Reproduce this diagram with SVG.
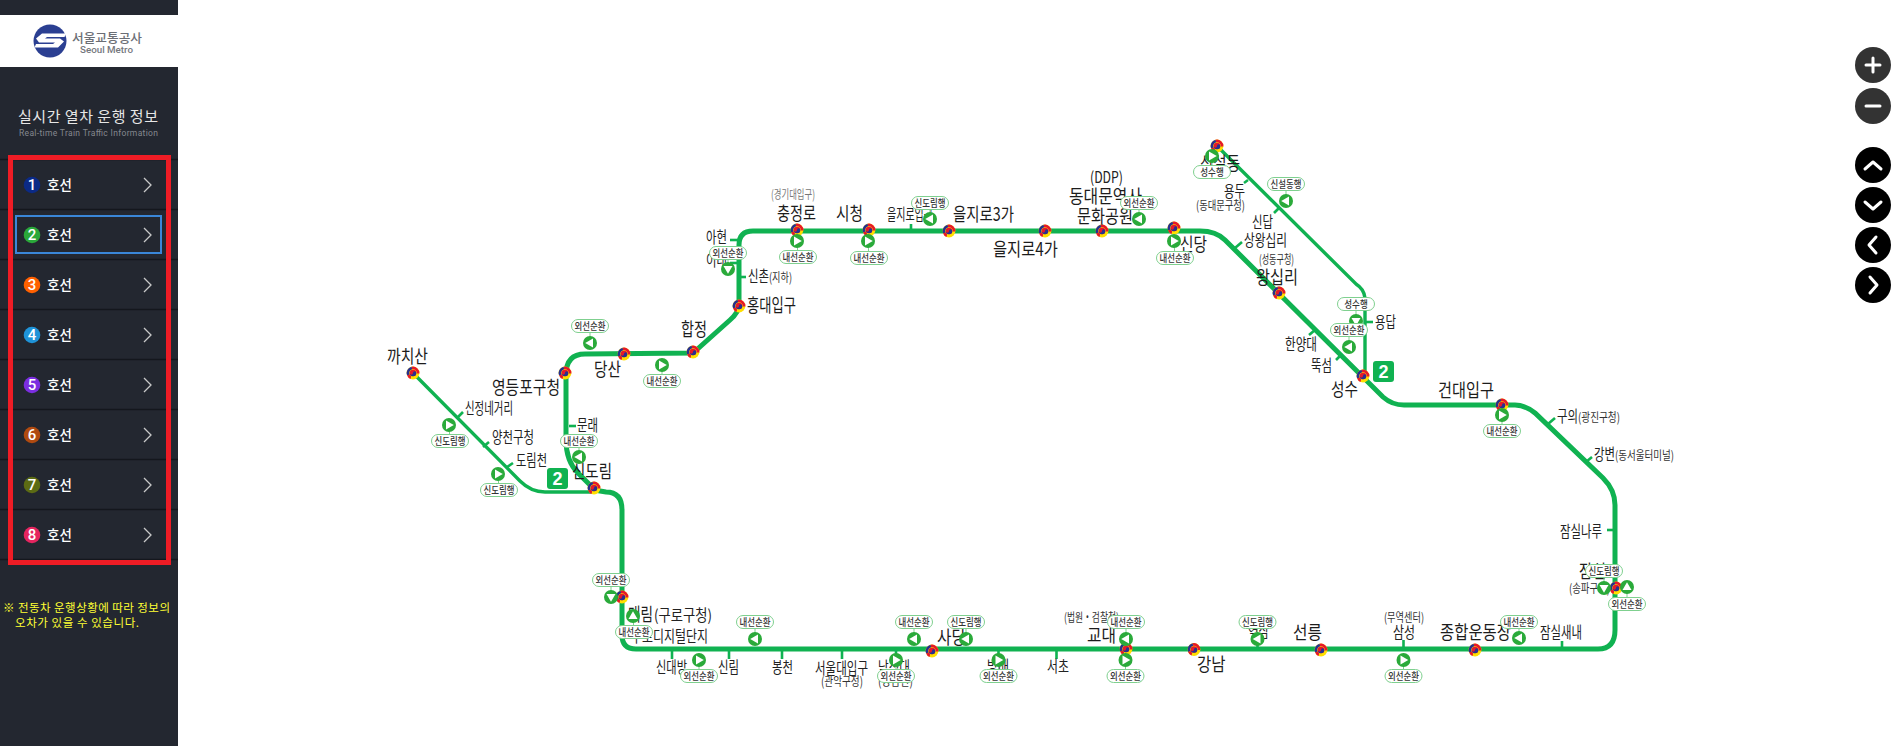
<svg xmlns="http://www.w3.org/2000/svg" width="1896" height="746" viewBox="0 0 1896 746">
<style>
text{font-family:"Noto Sans CJK KR","Noto Sans",sans-serif}
.a{font-size:18.500px;fill:#1c1c1c}
.b{font-size:15.500px;fill:#222}
.c{font-size:12.500px;fill:#333}
.p{font-size:10px;fill:#333;text-anchor:middle;font-weight:500}
.pill{fill:#fff;stroke:#7fd08f;stroke-width:1}
.pl{stroke:#7fd08f;stroke-width:1}
.main{fill:none;stroke:#10b251;stroke-width:5}
.br{fill:none;stroke:#10b251;stroke-width:3.400}
.tk{stroke:#10b251;stroke-width:2.600}
.div{stroke:#14171d;stroke-width:1.500}
.chev{fill:none;stroke:#c9c9c9;stroke-width:1.300}
.mt{font-size:13.500px;font-weight:500;fill:#fff}
.num{font-family:"Roboto",sans-serif;font-size:15px;font-weight:500;fill:#fff;text-anchor:middle}
.ic{fill:none;stroke:#fff;stroke-width:3;stroke-linecap:round;stroke-linejoin:round}
.bd{fill:#10b251}
.bn{font-family:"Liberation Sans",sans-serif;font-size:18px;font-weight:700;fill:#fff;text-anchor:middle}
</style>
<defs>
<g id="sta">
<circle r="6.400" fill="#ffdf00"/>
<path d="M-1.500-6.200A6.400 6.400 0 0 1 6.400 .5L3.800 .5A3.800 3.800 0 0 0-.8-3.700Z" fill="#e6182a"/>
<path d="M-5.900 2.400A6.400 6.400 0 0 1-1.500-6.200L-.8-3.700A3.800 3.800 0 0 0-3.400 1.600Z" fill="#27308f"/>
<path d="M-5.900 2.400A6.400 6.400 0 0 0-2.500 5.900L-1.800 3.400A3.800 3.800 0 0 1-3.400 1.600Z" fill="#e6182a"/>
<circle r="3.300" fill="#e6182a"/>
<path d="M-3.300 0A3.300 3.300 0 0 0 3.300 0A1.650 1.650 0 0 0 0 0A1.650 1.650 0 0 1-3.300 0Z" fill="#27308f"/>
</g>
<g id="tr"><circle r="7" fill="#2aaa3a"/><path d="M-3-4.500L4.800 0-3 4.500Z" fill="#fff"/></g>
<g id="tl"><circle r="7" fill="#2aaa3a"/><path d="M3-4.500L-4.800 0 3 4.500Z" fill="#fff"/></g>
<g id="tu"><circle r="7" fill="#2aaa3a"/><path d="M-4.500 3L0-4.800 4.500 3Z" fill="#fff"/></g>
<g id="td"><circle r="7" fill="#2aaa3a"/><path d="M-4.500-3L0 4.800 4.500-3Z" fill="#fff"/></g>
<path id="chv" d="M-3.500-7L3.500 0-3.500 7" class="chev"/>
</defs>
<rect width="1896" height="746" fill="#fff"/>
<g id="sidebar">
<rect width="178" height="746" fill="#232730"/>
<rect y="15" width="178" height="52" fill="#fff"/>
<g id="logo">
<circle cx="50" cy="41" r="16.500" fill="#2b3f92"/>
<path d="M36 38.500L42 33.500H66L64.500 37H47L45 38.500H60L64 41.500 58 47.500H34.500L36 44H53L55 42.500H39Z" fill="#fff"/>
<text x="72" y="42.500" font-size="12.500" font-weight="500" fill="#6b6e75" textLength="70" lengthAdjust="spacingAndGlyphs">서울교통공사</text>
<text x="80" y="53" font-size="8.500" font-weight="500" fill="#75787e" textLength="53" lengthAdjust="spacingAndGlyphs" style="font-family:'Roboto',sans-serif">Seoul Metro</text>
</g>
<text x="18" y="122" font-size="15" fill="#e6e6e6" textLength="140">실시간 열차 운행 정보</text>
<text x="19" y="136" font-size="8.500" fill="#85888f" textLength="139" style="font-family:'Roboto',sans-serif">Real-time Train Traffic Information</text>
<g id="dividers">
<line class="div" x1="0" x2="178" y1="159.500" y2="159.500"/><line class="div" x1="0" x2="178" y1="209.500" y2="209.500"/><line class="div" x1="0" x2="178" y1="259.500" y2="259.500"/><line class="div" x1="0" x2="178" y1="309.500" y2="309.500"/><line class="div" x1="0" x2="178" y1="359.500" y2="359.500"/><line class="div" x1="0" x2="178" y1="409.500" y2="409.500"/><line class="div" x1="0" x2="178" y1="459.500" y2="459.500"/><line class="div" x1="0" x2="178" y1="509.500" y2="509.500"/><line class="div" x1="0" x2="178" y1="559.500" y2="559.500"/>
</g>
<g id="line1"><circle cx="32" cy="185" r="8.300" fill="#0b2a86"/><text class="num" x="32" y="190.300">1</text><text class="mt" x="47" y="190">호선</text><use href="#chv" x="147.500" y="185"/></g>
<g id="line2"><circle cx="32" cy="235" r="8.300" fill="#2aa83a"/><text class="num" x="32" y="240.300">2</text><text class="mt" x="47" y="240">호선</text><use href="#chv" x="147.500" y="235"/></g>
<g id="line3"><circle cx="32" cy="285" r="8.300" fill="#ff6000"/><text class="num" x="32" y="290.300">3</text><text class="mt" x="47" y="290">호선</text><use href="#chv" x="147.500" y="285"/></g>
<g id="line4"><circle cx="32" cy="335" r="8.300" fill="#1f93d8"/><text class="num" x="32" y="340.300">4</text><text class="mt" x="47" y="340">호선</text><use href="#chv" x="147.500" y="335"/></g>
<g id="line5"><circle cx="32" cy="385" r="8.300" fill="#7b2ee0"/><text class="num" x="32" y="390.300">5</text><text class="mt" x="47" y="390">호선</text><use href="#chv" x="147.500" y="385"/></g>
<g id="line6"><circle cx="32" cy="435" r="8.300" fill="#b04a10"/><text class="num" x="32" y="440.300">6</text><text class="mt" x="47" y="440">호선</text><use href="#chv" x="147.500" y="435"/></g>
<g id="line7"><circle cx="32" cy="485" r="8.300" fill="#5c6b14"/><text class="num" x="32" y="490.300">7</text><text class="mt" x="47" y="490">호선</text><use href="#chv" x="147.500" y="485"/></g>
<g id="line8"><circle cx="32" cy="535" r="8.300" fill="#e5255f"/><text class="num" x="32" y="540.300">8</text><text class="mt" x="47" y="540">호선</text><use href="#chv" x="147.500" y="535"/></g>
<rect x="16" y="216" width="145" height="37" fill="none" stroke="#3a86d8" stroke-width="2"/>
<rect x="10.500" y="157.500" width="158" height="405" fill="none" stroke="#ee1c25" stroke-width="5"/>
<text x="3" y="612" font-size="11.500" fill="#ffff33" textLength="167">※ 전동차 운행상황에 따라 정보의</text>
<text x="15" y="627" font-size="11.500" fill="#ffff33" textLength="124">오차가 있을 수 있습니다.</text>
</g>
<g id="connectors">
<path id="loop" class="main" d="M739 305L739 245Q739 231 753 231L1200 231Q1216 231 1225 240L1383 397Q1392 405 1404 405L1515 405Q1525 405 1535 413L1603 478Q1615 490 1615 505L1615 630Q1615 649 1598 649L636 649Q622 649 622 635L622 510Q622 492 606 492L594 490"/>
<path id="loop2" class="main" d="M594 489L578 473Q566 461 566 440L566 375Q566 354 585 354L693 353L730 320Q739 312 739 305"/>
<path id="branch-kkachisan" class="br" d="M413 373L520 481Q531 492 545 492L594 492"/>
<path id="branch-sinseoldong" class="br" d="M1365 378L1365 298Q1364 289 1356 284L1217 146"/>
<g id="ticks">
<line class="tk" x1="457" y1="418" x2="463" y2="412"/><line class="tk" x1="483" y1="447" x2="489" y2="442"/><line class="tk" x1="507" y1="467" x2="513" y2="463"/>
<line class="tk" x1="569" y1="426" x2="576" y2="426"/><line class="tk" x1="730" y1="240" x2="738" y2="240"/><line class="tk" x1="730" y1="263" x2="738" y2="263"/><line class="tk" x1="740" y1="277" x2="746" y2="277"/>
<line class="tk" x1="911" y1="224" x2="911" y2="231"/><line class="tk" x1="1235" y1="248" x2="1242" y2="242"/><line class="tk" x1="1274" y1="213" x2="1279" y2="208"/><line class="tk" x1="1244" y1="183" x2="1248" y2="180"/>
<line class="tk" x1="1309" y1="335" x2="1315" y2="330"/><line class="tk" x1="1336" y1="360" x2="1341" y2="355"/><line class="tk" x1="1366" y1="322" x2="1373" y2="322"/>
<line class="tk" x1="1548" y1="424" x2="1555" y2="418"/><line class="tk" x1="1586" y1="462" x2="1592" y2="457"/><line class="tk" x1="1607" y1="530" x2="1615" y2="530"/>
<line class="tk" x1="1562" y1="641" x2="1562" y2="649"/><line class="tk" x1="1403.500" y1="640" x2="1403.500" y2="649"/><line class="tk" x1="1257.500" y1="642" x2="1257.500" y2="649"/>
<line class="tk" x1="672" y1="649" x2="672" y2="659"/><line class="tk" x1="729" y1="649" x2="729" y2="659"/><line class="tk" x1="782" y1="649" x2="782" y2="659"/><line class="tk" x1="842" y1="649" x2="842" y2="659"/><line class="tk" x1="1056.500" y1="649" x2="1056.500" y2="659"/><line class="tk" x1="998.500" y1="649" x2="998.500" y2="659"/><line class="tk" x1="896" y1="649" x2="896" y2="659"/>
</g>
</g>
<g id="badges">
<g id="badge-left"><rect class="bd" x="547" y="468" width="21" height="21" rx="3"/><text class="bn" x="557.500" y="485">2</text></g>
<g id="badge-right"><rect class="bd" x="1373" y="361" width="21" height="21" rx="3"/><text class="bn" x="1383.500" y="378">2</text></g>
</g>
<g id="stations">
<g id="s-kkachisan"><use href="#sta" x="413" y="373"/><text class="a" x="387" y="362.500" textLength="41" lengthAdjust="spacingAndGlyphs">까치산</text></g>
<g id="s-sinjeong"><text class="b" x="465" y="414" textLength="48" lengthAdjust="spacingAndGlyphs">신정네거리</text></g>
<g id="s-yangcheon"><text class="b" x="492" y="443" textLength="42" lengthAdjust="spacingAndGlyphs">양천구청</text></g>
<g id="s-dorimcheon"><text class="b" x="516" y="466" textLength="31" lengthAdjust="spacingAndGlyphs">도림천</text></g>
<g id="s-sindorim"><use href="#sta" x="594" y="488"/><text class="a" x="572" y="478" textLength="40" lengthAdjust="spacingAndGlyphs">신도림</text></g>
<g id="s-mullae"><text class="b" x="577" y="431" textLength="21" lengthAdjust="spacingAndGlyphs">문래</text></g>
<g id="s-ydp"><use href="#sta" x="565" y="373"/><text class="a" x="492" y="394" textLength="68" lengthAdjust="spacingAndGlyphs">영등포구청</text></g>
<g id="s-dangsan"><use href="#sta" x="624" y="354"/><text class="a" x="594" y="376" textLength="27" lengthAdjust="spacingAndGlyphs">당산</text></g>
<g id="s-hapjeong"><use href="#sta" x="693" y="352"/><text class="a" x="681" y="336" textLength="26" lengthAdjust="spacingAndGlyphs">합정</text></g>
<g id="s-hongik"><use href="#sta" x="739" y="306"/><text class="a" x="747" y="312" textLength="49" lengthAdjust="spacingAndGlyphs">홍대입구</text></g>
<g id="s-sinchon"><text class="b" x="748" y="282" textLength="21" lengthAdjust="spacingAndGlyphs">신촌</text><text class="c" x="769" y="282" textLength="23" lengthAdjust="spacingAndGlyphs">(지하)</text></g>
<g id="s-ewha"><text class="b" x="706" y="266" textLength="21" lengthAdjust="spacingAndGlyphs">이대</text></g>
<g id="s-ahyeon"><text class="b" x="706" y="243" textLength="21" lengthAdjust="spacingAndGlyphs">아현</text></g>
<g id="s-chungjeongno"><use href="#sta" x="797" y="230"/><text class="a" x="777" y="220" textLength="39" lengthAdjust="spacingAndGlyphs">충정로</text><text class="c" x="771" y="199" textLength="44" lengthAdjust="spacingAndGlyphs" style="fill:#777">(경기대입구)</text></g>
<g id="s-cityhall"><use href="#sta" x="869" y="230"/><text class="a" x="836" y="220" textLength="27" lengthAdjust="spacingAndGlyphs">시청</text></g>
<g id="s-euljiro1"><text class="b" x="887" y="220" textLength="46" lengthAdjust="spacingAndGlyphs">을지로입구</text></g>
<g id="s-euljiro3"><use href="#sta" x="949" y="231"/><text class="a" x="953" y="221" textLength="61" lengthAdjust="spacingAndGlyphs">을지로3가</text></g>
<g id="s-euljiro4"><use href="#sta" x="1045" y="231"/><text class="a" x="993" y="256" textLength="65" lengthAdjust="spacingAndGlyphs">을지로4가</text></g>
<g id="s-ddp"><use href="#sta" x="1102" y="231"/><text class="b" x="1090" y="183" textLength="33" lengthAdjust="spacingAndGlyphs">(DDP)</text><text class="a" x="1069" y="203" textLength="73" lengthAdjust="spacingAndGlyphs">동대문역사</text><text class="a" x="1077" y="223" textLength="56" lengthAdjust="spacingAndGlyphs">문화공원</text></g>
<g id="s-sindang"><use href="#sta" x="1174" y="228"/><text class="a" x="1180" y="251" textLength="27" lengthAdjust="spacingAndGlyphs">신당</text></g>
<g id="s-sinseoldong"><use href="#sta" x="1217" y="146"/><text class="a" x="1200" y="170" textLength="40" lengthAdjust="spacingAndGlyphs">신설동</text></g>
<g id="s-yongdu"><text class="b" x="1224" y="197" textLength="21" lengthAdjust="spacingAndGlyphs">용두</text><text class="c" x="1196" y="210" textLength="49" lengthAdjust="spacingAndGlyphs">(동대문구청)</text></g>
<g id="s-sindap"><text class="b" x="1252" y="228" textLength="21" lengthAdjust="spacingAndGlyphs">신답</text></g>
<g id="s-sangwangsimni"><text class="b" x="1244" y="246" textLength="43" lengthAdjust="spacingAndGlyphs">상왕십리</text></g>
<g id="s-wangsimni"><use href="#sta" x="1279" y="293"/><text class="c" x="1259" y="264" textLength="35" lengthAdjust="spacingAndGlyphs">(성동구청)</text><text class="a" x="1256" y="284" textLength="42" lengthAdjust="spacingAndGlyphs">왕십리</text></g>
<g id="s-hanyang"><text class="b" x="1285" y="350" textLength="32" lengthAdjust="spacingAndGlyphs">한양대</text></g>
<g id="s-ttukseom"><text class="b" x="1311" y="371" textLength="21" lengthAdjust="spacingAndGlyphs">뚝섬</text></g>
<g id="s-seongsu"><use href="#sta" x="1363" y="376"/><text class="a" x="1331" y="396" textLength="27" lengthAdjust="spacingAndGlyphs">성수</text></g>
<g id="s-yongdap"><text class="b" x="1375" y="328" textLength="21" lengthAdjust="spacingAndGlyphs">용답</text></g>
<g id="s-konkuk"><use href="#sta" x="1502" y="405"/><text class="a" x="1438" y="397" textLength="56" lengthAdjust="spacingAndGlyphs">건대입구</text></g>
<g id="s-guui"><text class="b" x="1557" y="422" textLength="21" lengthAdjust="spacingAndGlyphs">구의</text><text class="c" x="1578" y="422" textLength="42" lengthAdjust="spacingAndGlyphs">(광진구청)</text></g>
<g id="s-gangbyeon"><text class="b" x="1594" y="460" textLength="21" lengthAdjust="spacingAndGlyphs">강변</text><text class="c" x="1615" y="460" textLength="59" lengthAdjust="spacingAndGlyphs">(동서울터미널)</text></g>
<g id="s-jamsilnaru"><text class="b" x="1560" y="537" textLength="42" lengthAdjust="spacingAndGlyphs">잠실나루</text></g>
<g id="s-jamsil"><use href="#sta" x="1616" y="588"/><text class="a" x="1579" y="578" textLength="27" lengthAdjust="spacingAndGlyphs">잠실</text><text class="c" x="1569" y="593" textLength="41" lengthAdjust="spacingAndGlyphs">(송파구청)</text></g>
<g id="s-jamsilsaenae"><text class="b" x="1540" y="638" textLength="42" lengthAdjust="spacingAndGlyphs">잠실새내</text></g>
<g id="s-sports"><use href="#sta" x="1475" y="650"/><text class="a" x="1440" y="639" textLength="71" lengthAdjust="spacingAndGlyphs">종합운동장</text></g>
<g id="s-samseong"><text class="c" x="1384" y="622" textLength="40" lengthAdjust="spacingAndGlyphs">(무역센터)</text><text class="b" x="1393" y="638" textLength="22" lengthAdjust="spacingAndGlyphs">삼성</text></g>
<g id="s-seolleung"><use href="#sta" x="1321" y="650"/><text class="a" x="1293" y="639" textLength="29" lengthAdjust="spacingAndGlyphs">선릉</text></g>
<g id="s-yeoksam"><text class="b" x="1248" y="637" textLength="21" lengthAdjust="spacingAndGlyphs">역삼</text></g>
<g id="s-gangnam"><use href="#sta" x="1194" y="649.500"/><text class="a" x="1197" y="671" textLength="28.500" lengthAdjust="spacingAndGlyphs">강남</text></g>
<g id="s-gyodae"><use href="#sta" x="1126" y="649"/><text class="c" x="1064" y="622" textLength="55" lengthAdjust="spacingAndGlyphs">(법원・검찰청)</text><text class="a" x="1087" y="642" textLength="29" lengthAdjust="spacingAndGlyphs">교대</text></g>
<g id="s-seocho"><text class="b" x="1047" y="672" textLength="22" lengthAdjust="spacingAndGlyphs">서초</text></g>
<g id="s-bangbae"><text class="b" x="987" y="672" textLength="22" lengthAdjust="spacingAndGlyphs">방배</text></g>
<g id="s-sadang"><use href="#sta" x="932" y="651"/><text class="a" x="937" y="644" textLength="29" lengthAdjust="spacingAndGlyphs">사당</text></g>
<g id="s-nakseongdae"><text class="b" x="878" y="673" textLength="32" lengthAdjust="spacingAndGlyphs">낙성대</text><text class="c" x="878" y="686" textLength="35" lengthAdjust="spacingAndGlyphs">(강감찬)</text></g>
<g id="s-snu"><text class="b" x="815" y="674" textLength="53" lengthAdjust="spacingAndGlyphs">서울대입구</text><text class="c" x="821" y="686" textLength="42" lengthAdjust="spacingAndGlyphs">(관악구청)</text></g>
<g id="s-bongcheon"><text class="b" x="772" y="673" textLength="21" lengthAdjust="spacingAndGlyphs">봉천</text></g>
<g id="s-sillim"><text class="b" x="718" y="673" textLength="21" lengthAdjust="spacingAndGlyphs">신림</text></g>
<g id="s-sindaebang"><text class="b" x="656" y="673" textLength="31" lengthAdjust="spacingAndGlyphs">신대방</text></g>
<g id="s-guro-digital"><text class="b" x="631" y="642" textLength="77" lengthAdjust="spacingAndGlyphs">구로디지털단지</text></g>
<g id="s-daerim"><use href="#sta" x="622" y="597"/><text class="a" x="628" y="621" textLength="25" lengthAdjust="spacingAndGlyphs">대림</text><text class="b" x="654" y="621" textLength="58" lengthAdjust="spacingAndGlyphs">(구로구청)</text></g>
</g>
<g id="trains">
<g id="t1"><line class="pl" x1="449" y1="425" x2="450" y2="441"/><use href="#tr" x="449" y="425"/><rect class="pill" x="431.500" y="434.500" width="37" height="13" rx="6.500"/><text class="p" x="450" y="444.500" textLength="31" lengthAdjust="spacingAndGlyphs">신도림행</text></g>
<g id="t2"><line class="pl" x1="498" y1="474" x2="499" y2="490"/><use href="#tr" x="498" y="474"/><rect class="pill" x="480.500" y="483.500" width="37" height="13" rx="6.500"/><text class="p" x="499" y="493.500" textLength="31" lengthAdjust="spacingAndGlyphs">신도림행</text></g>
<g id="t3"><line class="pl" x1="579" y1="457" x2="579" y2="441"/><use href="#tl" x="579" y="457"/><rect class="pill" x="560.500" y="434.500" width="37" height="13" rx="6.500"/><text class="p" x="579" y="444.500" textLength="31" lengthAdjust="spacingAndGlyphs">내선순환</text></g>
<g id="t4"><line class="pl" x1="590" y1="343" x2="590" y2="326"/><use href="#tl" x="590" y="343"/><rect class="pill" x="571.500" y="319.500" width="37" height="13" rx="6.500"/><text class="p" x="590" y="329.500" textLength="31" lengthAdjust="spacingAndGlyphs">외선순환</text></g>
<g id="t5"><line class="pl" x1="662" y1="365" x2="662" y2="381"/><use href="#tr" x="662" y="365"/><rect class="pill" x="643.500" y="374.500" width="37" height="13" rx="6.500"/><text class="p" x="662" y="384.500" textLength="31" lengthAdjust="spacingAndGlyphs">내선순환</text></g>
<g id="t6"><line class="pl" x1="728" y1="269" x2="728" y2="253"/><use href="#td" x="728" y="269"/><rect class="pill" x="709.500" y="246.500" width="37" height="13" rx="6.500"/><text class="p" x="728" y="256.500" textLength="31" lengthAdjust="spacingAndGlyphs">외선순환</text></g>
<g id="t7"><line class="pl" x1="797" y1="241" x2="798" y2="257"/><use href="#tr" x="797" y="241"/><rect class="pill" x="779.500" y="250.500" width="37" height="13" rx="6.500"/><text class="p" x="798" y="260.500" textLength="31" lengthAdjust="spacingAndGlyphs">내선순환</text></g>
<g id="t8"><line class="pl" x1="868" y1="241" x2="869" y2="258"/><use href="#tr" x="868" y="241"/><rect class="pill" x="850.500" y="251.500" width="37" height="13" rx="6.500"/><text class="p" x="869" y="261.500" textLength="31" lengthAdjust="spacingAndGlyphs">내선순환</text></g>
<g id="t9"><line class="pl" x1="930" y1="219" x2="930" y2="203"/><use href="#tl" x="930" y="219"/><rect class="pill" x="911.500" y="196.500" width="37" height="13" rx="6.500"/><text class="p" x="930" y="206.500" textLength="31" lengthAdjust="spacingAndGlyphs">신도림행</text></g>
<g id="t10"><line class="pl" x1="1139" y1="219" x2="1139" y2="203"/><use href="#tl" x="1139" y="219"/><rect class="pill" x="1120.500" y="196.500" width="37" height="13" rx="6.500"/><text class="p" x="1139" y="206.500" textLength="31" lengthAdjust="spacingAndGlyphs">외선순환</text></g>
<g id="t11"><line class="pl" x1="1174" y1="241" x2="1175" y2="258"/><use href="#tr" x="1174" y="241"/><rect class="pill" x="1156.500" y="251.500" width="37" height="13" rx="6.500"/><text class="p" x="1175" y="261.500" textLength="31" lengthAdjust="spacingAndGlyphs">내선순환</text></g>
<g id="t12"><line class="pl" x1="1212" y1="156" x2="1212" y2="172"/><use href="#tr" x="1212" y="156"/><rect class="pill" x="1193.500" y="165.500" width="37" height="13" rx="6.500"/><text class="p" x="1212" y="175.500" textLength="23.500" lengthAdjust="spacingAndGlyphs">성수행</text></g>
<g id="t13"><line class="pl" x1="1286" y1="201" x2="1286" y2="184"/><use href="#tl" x="1286" y="201"/><rect class="pill" x="1267.500" y="177.500" width="37" height="13" rx="6.500"/><text class="p" x="1286" y="187.500" textLength="31" lengthAdjust="spacingAndGlyphs">신설동행</text></g>
<g id="t14"><line class="pl" x1="1356" y1="321" x2="1356" y2="304"/><use href="#td" x="1356" y="321"/><rect class="pill" x="1337.500" y="297.500" width="37" height="13" rx="6.500"/><text class="p" x="1356" y="307.500" textLength="23.500" lengthAdjust="spacingAndGlyphs">성수행</text></g>
<g id="t15"><line class="pl" x1="1349" y1="347" x2="1349" y2="330"/><use href="#tl" x="1349" y="347"/><rect class="pill" x="1330.500" y="323.500" width="37" height="13" rx="6.500"/><text class="p" x="1349" y="333.500" textLength="31" lengthAdjust="spacingAndGlyphs">외선순환</text></g>
<g id="t16"><line class="pl" x1="1502" y1="415" x2="1502" y2="431"/><use href="#tr" x="1502" y="415"/><rect class="pill" x="1483.500" y="424.500" width="37" height="13" rx="6.500"/><text class="p" x="1502" y="434.500" textLength="31" lengthAdjust="spacingAndGlyphs">내선순환</text></g>
<g id="t17"><line class="pl" x1="1604" y1="588" x2="1604" y2="571"/><use href="#td" x="1604" y="588"/><rect class="pill" x="1585.500" y="564.500" width="37" height="13" rx="6.500"/><text class="p" x="1604" y="574.500" textLength="31" lengthAdjust="spacingAndGlyphs">신도림행</text></g>
<g id="t18"><line class="pl" x1="1627" y1="587" x2="1627" y2="604"/><use href="#tu" x="1627" y="587"/><rect class="pill" x="1608.500" y="597.500" width="37" height="13" rx="6.500"/><text class="p" x="1627" y="607.500" textLength="31" lengthAdjust="spacingAndGlyphs">외선순환</text></g>
<g id="t19"><line class="pl" x1="1519" y1="638" x2="1519" y2="622"/><use href="#tl" x="1519" y="638"/><rect class="pill" x="1500.500" y="615.500" width="37" height="13" rx="6.500"/><text class="p" x="1519" y="625.500" textLength="31" lengthAdjust="spacingAndGlyphs">내선순환</text></g>
<g id="t20"><line class="pl" x1="611" y1="597" x2="611" y2="580"/><use href="#td" x="611" y="597"/><rect class="pill" x="592.500" y="573.500" width="37" height="13" rx="6.500"/><text class="p" x="611" y="583.500" textLength="31" lengthAdjust="spacingAndGlyphs">외선순환</text></g>
<g id="t21"><line class="pl" x1="633" y1="616" x2="634" y2="632"/><use href="#tu" x="633" y="616"/><rect class="pill" x="615.500" y="625.500" width="37" height="13" rx="6.500"/><text class="p" x="634" y="635.500" textLength="31" lengthAdjust="spacingAndGlyphs">내선순환</text></g>
<g id="t22"><line class="pl" x1="699" y1="660" x2="699" y2="676"/><use href="#tr" x="699" y="660"/><rect class="pill" x="680.500" y="669.500" width="37" height="13" rx="6.500"/><text class="p" x="699" y="679.500" textLength="31" lengthAdjust="spacingAndGlyphs">외선순환</text></g>
<g id="t23"><line class="pl" x1="755" y1="639" x2="755" y2="622"/><use href="#tl" x="755" y="639"/><rect class="pill" x="736.500" y="615.500" width="37" height="13" rx="6.500"/><text class="p" x="755" y="625.500" textLength="31" lengthAdjust="spacingAndGlyphs">내선순환</text></g>
<g id="t24"><line class="pl" x1="896" y1="660" x2="896" y2="676"/><use href="#tr" x="896" y="660"/><rect class="pill" x="877.500" y="669.500" width="37" height="13" rx="6.500"/><text class="p" x="896" y="679.500" textLength="31" lengthAdjust="spacingAndGlyphs">외선순환</text></g>
<g id="t25"><line class="pl" x1="914" y1="639" x2="914" y2="622"/><use href="#tl" x="914" y="639"/><rect class="pill" x="895.500" y="615.500" width="37" height="13" rx="6.500"/><text class="p" x="914" y="625.500" textLength="31" lengthAdjust="spacingAndGlyphs">내선순환</text></g>
<g id="t26"><line class="pl" x1="966" y1="639" x2="966" y2="622"/><use href="#tl" x="966" y="639"/><rect class="pill" x="947.500" y="615.500" width="37" height="13" rx="6.500"/><text class="p" x="966" y="625.500" textLength="31" lengthAdjust="spacingAndGlyphs">신도림행</text></g>
<g id="t27"><line class="pl" x1="998.500" y1="660" x2="998.500" y2="676"/><use href="#tr" x="998.500" y="660"/><rect class="pill" x="980" y="669.500" width="37" height="13" rx="6.500"/><text class="p" x="998.500" y="679.500" textLength="31" lengthAdjust="spacingAndGlyphs">외선순환</text></g>
<g id="t28"><line class="pl" x1="1126" y1="639" x2="1126" y2="622"/><use href="#tl" x="1126" y="639"/><rect class="pill" x="1107.500" y="615.500" width="37" height="13" rx="6.500"/><text class="p" x="1126" y="625.500" textLength="31" lengthAdjust="spacingAndGlyphs">내선순환</text></g>
<g id="t29"><line class="pl" x1="1125.500" y1="660" x2="1125.500" y2="676"/><use href="#tr" x="1125.500" y="660"/><rect class="pill" x="1107" y="669.500" width="37" height="13" rx="6.500"/><text class="p" x="1125.500" y="679.500" textLength="31" lengthAdjust="spacingAndGlyphs">외선순환</text></g>
<g id="t30"><line class="pl" x1="1257.500" y1="639" x2="1257.500" y2="622"/><use href="#tl" x="1257.500" y="639"/><rect class="pill" x="1239" y="615.500" width="37" height="13" rx="6.500"/><text class="p" x="1257.500" y="625.500" textLength="31" lengthAdjust="spacingAndGlyphs">신도림행</text></g>
<g id="t31"><line class="pl" x1="1403.500" y1="660" x2="1403.500" y2="676"/><use href="#tr" x="1403.500" y="660"/><rect class="pill" x="1385" y="669.500" width="37" height="13" rx="6.500"/><text class="p" x="1403.500" y="679.500" textLength="31" lengthAdjust="spacingAndGlyphs">외선순환</text></g>
</g>
<g id="controls">
<g id="zoom-in"><circle cx="1873" cy="65" r="18" fill="#333"/><path class="ic" d="M1866 65H1880M1873 58V72"/></g>
<g id="zoom-out"><circle cx="1873" cy="106" r="18" fill="#333"/><path class="ic" d="M1866 106H1880"/></g>
<g id="pan-up"><circle cx="1873" cy="165" r="18" fill="#000"/><path class="ic" d="M1865 169L1873 162 1881 169"/></g>
<g id="pan-down"><circle cx="1873" cy="205" r="18" fill="#000"/><path class="ic" d="M1865 202L1873 209 1881 202"/></g>
<g id="pan-left"><circle cx="1873" cy="245" r="18" fill="#000"/><path class="ic" d="M1876 237L1869 245 1876 253"/></g>
<g id="pan-right"><circle cx="1873" cy="285" r="18" fill="#000"/><path class="ic" d="M1870 277L1877 285 1870 293"/></g>
</g>
</svg>
